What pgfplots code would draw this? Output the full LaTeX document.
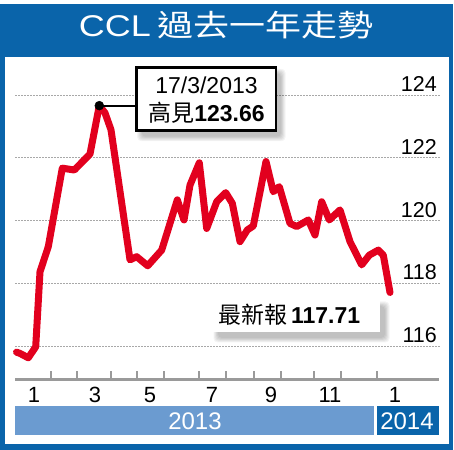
\documentclass[border=0pt]{standalone}
\usepackage{fontspec}
\setmainfont{Liberation Sans}
\newfontfamily\cjk{Noto Sans CJK TC}
\usepackage{graphicx}
\usepackage{pgfplots}
\pgfplotsset{compat=1.18}
\definecolor{frameblue}{HTML}{0A64AA}
\definecolor{lightblue}{HTML}{6B9BD0}
\definecolor{linered}{HTML}{E2001E}
\definecolor{gridgray}{HTML}{A8A8A8}
\definecolor{axisgray}{HTML}{9A9A9A}
\tikzset{px/.style={x=1bp,y=-1bp,yshift=450bp}}
\newcommand\fs[1]{\fontsize{#1bp}{#1bp}\selectfont}
\newcommand\softshadow[4]{% x1 y1 x2 y2
  \foreach \i in {0,1,2,3,4,5}{
    \fill[black,opacity=0.045,rounded corners=4bp] ({#1+5-\i*0.9},{#2+6-\i*0.9}) rectangle ({#3+5+\i*0.9},{#4+6+\i*0.9});
  }}
\begin{document}
\begin{tikzpicture}
\useasboundingbox (0,0) rectangle (454bp,450bp);
\begin{scope}[px]
  \fill[white] (0,0) rectangle (454,450);
  \fill[frameblue] (0,4) rectangle (453,450);
  \fill[white] (5,57) rectangle (448.5,444.5);
  % title
  \node[white,anchor=base,inner sep=0] at (226,37) {\scalebox{1.2}[1]{\fs{30}CCL\,{\cjk 過去一年走勢}}};
  % gridlines
  \foreach \y in {95,157.8,220.6,283.4,346.2}{
    \draw[gridgray,line width=0.9bp,dash pattern=on 1.5bp off 1.5bp] (15,\y) -- (440,\y);
  }
  % y labels
  \foreach \y/\t in {95/124,157.8/122,220.6/120,283.4/118,346.2/116}{
    \node[anchor=base east,inner sep=0] at (437,{\y-3.5}) {\fs{21.5}\t};
  }
  % x axis
  \draw[axisgray,line width=3bp] (15,380) -- (439,380);
  \foreach \x in {50.7,77.3,110.7,137.3,164,199.3,226,254,280.7,314,341.3,376.7}{
    \draw[axisgray,line width=2bp] (\x,371.3) -- (\x,380);
  }
  \foreach \x/\t in {34/1,95/3,150/5,212/7,271/9,330/11,395/1}{
    \node[anchor=base,inner sep=0] at (\x,402.7) {\fs{22}\t};
  }
  % year bars
  \fill[lightblue] (15,406) rectangle (374,435);
  \fill[frameblue] (377,406) rectangle (439,435);
  \node[white,anchor=base,inner sep=0] at (195,430) {\fs{24}2013};
  \node[white,anchor=base,inner sep=0] at (407,430) {\fs{24}2014};
\end{scope}
\begin{axis}[at={(0,0)},anchor=south west,scale only axis,width=454bp,height=450bp,
  xmin=0,xmax=454,ymin=112.694,ymax=127.025,hide axis,clip=false]
\addplot[color=linered,line width=7bp,line join=round,line cap=round] coordinates {
(16.5,115.81) (20,115.77) (28.3,115.63) (35.7,115.98) (40,118.37) (48.3,119.17)
(62.3,121.67) (74.3,121.61) (90,122.12) (99.3,123.66) (105,123.43) (111,122.89)
(130,118.75) (136.7,118.85) (147.7,118.56) (161.7,119.06) (177.3,120.66) (184,120.02)
(190,121.13) (199.3,121.84) (206.7,119.75) (216.7,120.60) (225.7,120.89) (232.3,120.55)
(240,119.33) (247.3,119.70) (253.3,119.83) (266,121.88) (273.3,120.92) (279.3,121.08)
(290,119.91) (296.7,119.81) (308.3,120.02) (315,119.54) (321.7,120.60) (329.3,120.02)
(340,120.34) (350,119.33) (361.7,118.59) (369.3,118.90) (378.3,119.06) (383.3,118.90)
(390,117.71)
};
\draw[black,line width=2bp] (axis cs:99.3,123.66) -- (axis cs:137,123.66);
\addplot[only marks,mark=*,mark size=4.5bp,black] coordinates {(99.3,123.66)};
\end{axis}
\begin{scope}[px]
  \softshadow{136.7}{67.3}{276}{130.7}
  \draw[black,fill=white,line width=2.5bp] (136.7,67.3) rectangle (276,130.7);
  \node[anchor=base,inner sep=0] at (206.5,93.3) {\fs{23}17/3/2013};
  \node[anchor=base,inner sep=0] at (206.5,121.7) {\fs{23}{\cjk 高見}\textbf{123.66}};
  \softshadow{213}{300}{380}{332}
  \fill[white] (213,300) rectangle (380,332);
  \node[anchor=base west,inner sep=0] at (218,324) {\fs{23}{\cjk 最新報}\,\textbf{117.71}};
\end{scope}
\end{tikzpicture}
\end{document}
